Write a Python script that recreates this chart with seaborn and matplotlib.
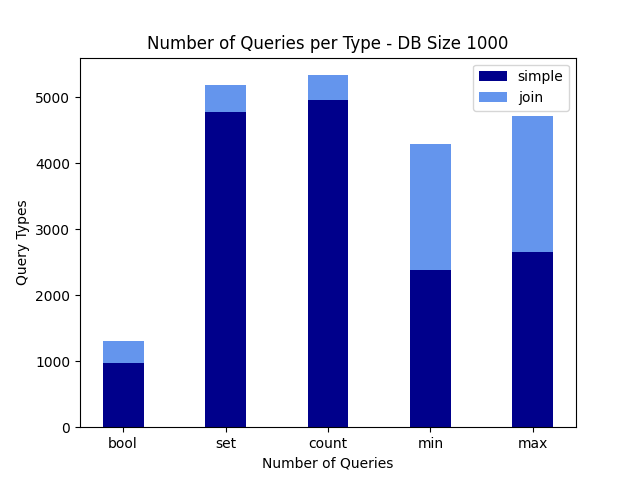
import matplotlib
matplotlib.use("Agg")
import matplotlib.pyplot as plt
import seaborn as sns
import pandas as pd

# -----------------------------
# Data
# -----------------------------
query_types = ["bool", "set", "count", "min", "max"]
simple_counts = [974, 4777, 4959, 2383, 2656]
join_counts = [334, 409, 379, 1909, 2061]

df = pd.DataFrame({
    "type": query_types,
    "simple": simple_counts,
    "join": join_counts,
})
df["total"] = df["simple"] + df["join"]

# -----------------------------
# Plot
# -----------------------------
fig, ax = plt.subplots(figsize=(6.4, 4.8), dpi=100)

sns.barplot(data=df, x="type", y="total", color="cornflowerblue", width=0.4,
            saturation=1, errorbar=None, label="join", ax=ax)
sns.barplot(data=df, x="type", y="simple", color="darkblue", width=0.4,
            saturation=1, errorbar=None, label="simple", ax=ax)

ax.set_xlim(-0.42, 4.42)
ax.set_title("Number of Queries per Type - DB Size 1000")
ax.set_xlabel("Number of Queries")
ax.set_ylabel("Query Types")

handles, labels = ax.get_legend_handles_labels()
order = [labels.index("simple"), labels.index("join")]
ax.legend([handles[i] for i in order], [labels[i] for i in order], loc="upper right")

fig.savefig("out.png", dpi=100)
